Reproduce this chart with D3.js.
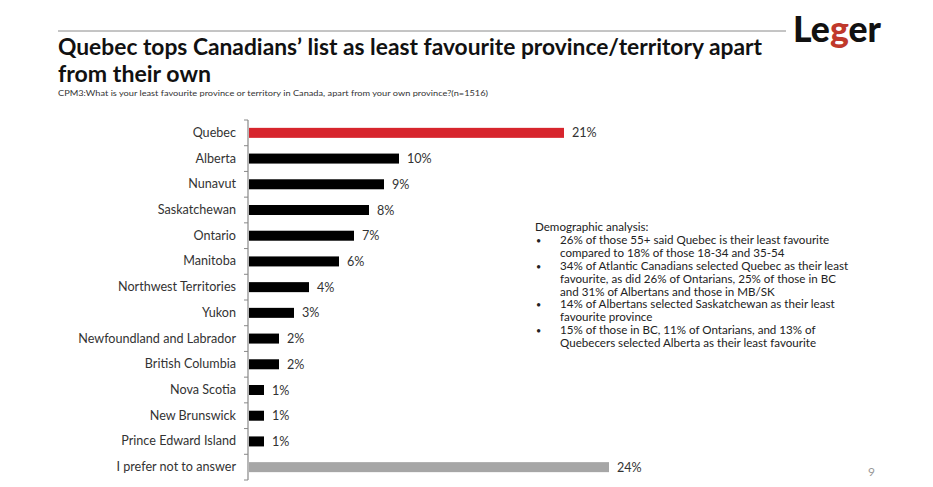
<!DOCTYPE html>
<html><head><meta charset="utf-8">
<script src="https://cdn.jsdelivr.net/npm/d3@7"></script>
<style>body{margin:0;background:#fff}svg{display:block}</style>
</head><body>
<svg id="c" width="933" height="487"></svg>
<script>
const categories = ["Quebec","Alberta","Nunavut","Saskatchewan","Ontario","Manitoba","Northwest Territories","Yukon","Newfoundland and Labrador","British Columbia","Nova Scotia","New Brunswick","Prince Edward Island","I prefer not to answer"];
const values = [21,10,9,8,7,6,4,3,2,2,1,1,1,24];
const titleLines = ["Quebec tops Canadians\u2019 list as least favourite province/territory apart","from their own"];
const subtitle = "CPM3:What is your least favourite province or territory in Canada, apart from your own province?(n=1516)";
const notesHeader = "Demographic analysis:";
const notes = [
  ["26% of those 55+ said Quebec is their least favourite","compared to 18% of those 18-34 and 35-54"],
  ["34% of Atlantic Canadians selected Quebec as their least","favourite, as did 26% of Ontarians, 25% of those in BC","and 31% of Albertans and those in MB/SK"],
  ["14% of Albertans selected Saskatchewan as their least","favourite province"],
  ["15% of those in BC, 11% of Ontarians, and 13% of","Quebecers selected Alberta as their least favourite"]
];

const svg = d3.select("#c");
const F = "Lato, 'Open Sans', sans-serif";

// header line and title
svg.append("line").attr("x1",58).attr("x2",786).attr("y1",31).attr("y2",31).attr("stroke","#8a8a8a").attr("stroke-width",1);
titleLines.forEach((t,i)=>{
  const el = svg.append("text").attr("x",58).attr("y",55+i*27).attr("font-family",F).attr("font-weight","bold")
    .attr("font-size",22.5).attr("fill","#111").text(t);
  if(i===0) el.attr("textLength",704).attr("lengthAdjust","spacingAndGlyphs");
  else el.attr("textLength",153).attr("lengthAdjust","spacingAndGlyphs");
});
svg.append("text").attr("x",58).attr("y",96).attr("font-family",F).attr("font-size",7.5).attr("fill","#333")
  .attr("textLength",430).attr("lengthAdjust","spacingAndGlyphs").text(subtitle);

// logo
const logo = svg.append("text").attr("x",793).attr("y",42).attr("font-family",F).attr("font-weight","900").attr("font-size",36).attr("fill","#111")
  .attr("textLength",88).attr("lengthAdjust","spacingAndGlyphs");
logo.append("tspan").text("Le");
logo.append("tspan").attr("fill","#c0392b").text("g");
logo.append("tspan").text("er");

// scales
const x = d3.scaleLinear().domain([0,24]).range([248,608]);
const y = d3.scaleBand().domain(categories).range([120,480]).paddingInner(0.6).paddingOuter(0.3);

// axis
const ax = svg.append("g").attr("transform","translate(248,0)")
  .call(d3.axisLeft(y).tickSize(0).tickPadding(12).tickFormat(d=>d));
ax.select(".domain").remove();
ax.selectAll("text").attr("font-family",F).attr("font-size",12.6).attr("fill","#333");
const y0 = 120, stepB = (480-120)/categories.length;
svg.append("line").attr("x1",248).attr("x2",248).attr("y1",y0).attr("y2",480).attr("stroke","#888").attr("stroke-width",1.2);
svg.selectAll(".tk").data(d3.range(categories.length+1)).join("line")
  .attr("x1",244).attr("x2",248).attr("y1",i=>y0+i*stepB).attr("y2",i=>y0+i*stepB).attr("stroke","#888");

const colorOf = (d,i)=> i===0 ? "#d7252d" : (i===categories.length-1 ? "#a6a6a6" : "#000");
const bh = 10;
svg.selectAll(".bar").data(values).join("rect")
  .attr("x",x(0)+1).attr("y",(d,i)=>y(categories[i])+y.bandwidth()/2-bh/2)
  .attr("width",d=>x(d)-x(0)).attr("height",bh).attr("fill",colorOf);
svg.selectAll(".val").data(values).join("text")
  .attr("x",d=>x(d)+9).attr("y",(d,i)=>y(categories[i])+y.bandwidth()/2+4.5)
  .attr("font-family",F).attr("font-size",12.6).attr("fill","#333").text(d=>d+"%");

// notes
const nx = 535, tx = 560, fs = 11.6;
let ly = 231;
svg.append("text").attr("x",nx).attr("y",ly).attr("font-family",F).attr("font-size",fs).attr("fill","#222").text(notesHeader);
notes.forEach(g=>{
  g.forEach((line,j)=>{
    ly += 12.9;
    if(j===0) svg.append("text").attr("x",nx+1).attr("y",ly).attr("font-family",F).attr("font-size",9).attr("fill","#222").text("\u2022");
    const t = svg.append("text").attr("x",tx).attr("y",ly).attr("font-family",F).attr("font-size",fs).attr("fill","#222").text(line);
  });
});

svg.append("text").attr("x",868).attr("y",476).attr("font-family",F).attr("font-size",12).attr("fill","#999").text("9");
</script>
</body></html>
